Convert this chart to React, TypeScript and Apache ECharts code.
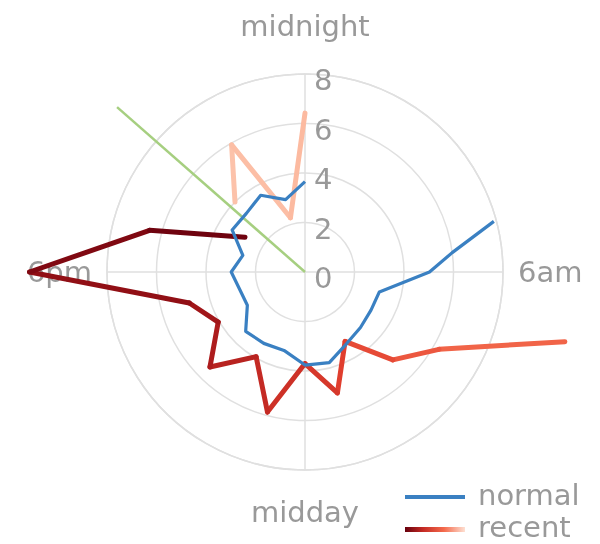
import React, { useEffect, useRef } from "react";
import * as echarts from "echarts";

// ---- data ----
const angleLabels = ["midnight", "6am", "midday", "6pm"];
const radiusTicks = [0, 2, 4, 6, 8];

const normalHours = [5, 5.5, 6, 7, 8, 9, 10, 11, 12, 13, 14, 15, 16, 17, 18, 19, 20, 21, 22, 23, 24];
const normalValues = [7.9, 6.0, 5.03, 3.11, 3.08, 3.17, 3.35, 3.79, 3.76, 3.28, 3.33, 3.39, 2.69, 2.73, 2.98, 2.6, 3.4, 3.35, 3.58, 3.03, 3.65];

// recent: yesterday evening (oldest) then today
const recentEveningHours = [21, 22, 23, 24];
const recentEveningValues = [4.0, 5.93, 2.27, 6.42];
const recentDayHours = [7, 8, 9, 10, 11, 12, 13, 14, 15, 16, 17, 18, 19, 20];
const recentDayValues = [10.87, 6.25, 5.02, 3.24, 5.06, 3.7, 5.86, 3.95, 5.43, 4.05, 4.84, 11.13, 6.5, 2.8];

const nowHour = 20.75;
const nowValue = 10.1;

// ---- styling helpers ----
const REDS = ["#fff5f0", "#fee0d2", "#fcbba1", "#fc9272", "#f46a4c", "#e2402f", "#c42a24", "#9e1418", "#67000d"];
function hex(c: string) {
  return [1, 3, 5].map((i) => parseInt(c.slice(i, i + 2), 16));
}
function reds(t: number) {
  t = Math.max(0, Math.min(1, t));
  const p = t * (REDS.length - 1);
  const i = Math.min(REDS.length - 2, Math.floor(p));
  const f = p - i;
  const a = hex(REDS[i]);
  const b = hex(REDS[i + 1]);
  const c = a.map((v, k) => Math.round(v + (b[k] - v) * f));
  return `rgb(${c[0]},${c[1]},${c[2]})`;
}
function shade(h: number) {
  const c = ((((h - 21) % 24) + 24) % 24) / 23;
  if (h === 24) return 0.26;
  return c < 0.2 ? 0.22 + 0.3 * c : 0.5 + (0.5 * (c - 0.435)) / 0.565;
}

function segments(hours: number[], values: number[]) {
  const out: any[] = [];
  for (let i = 0; i < hours.length - 1; i++) {
    const t = (shade(hours[i]) + shade(hours[i + 1])) / 2;
    out.push({
      type: "line",
      coordinateSystem: "polar",
      polarIndex: 1,
      data: [
        [values[i], hours[i]],
        [values[i + 1], hours[i + 1]],
      ],
      showSymbol: false,
      clip: false,
      silent: true,
      z: 3,
      lineStyle: { color: reds(t), width: 5, cap: "round", join: "round" },
    });
  }
  return out;
}

const FONT = "DejaVu Sans";
const GREY = "#999";
const GRID = "#e0e0e0";

export default function App() {
  const ref = useRef<HTMLDivElement>(null);
  useEffect(() => {
    if (!ref.current) return;
    const chart = echarts.init(ref.current, null, { renderer: "svg" });
    const hiddenAxis = {
      axisLine: { show: false },
      axisTick: { show: false },
      splitLine: { show: false },
      axisLabel: { show: false },
    };
    const option: any = {
      animation: false,
      polar: [
        { center: [305, 272], radius: 198 },
        { center: [305, 272], radius: 396 },
      ],
      angleAxis: [
        {
          polarIndex: 0,
          type: "value",
          min: 0,
          max: 24,
          interval: 6,
          startAngle: 90,
          clockwise: true,
          axisLine: { show: true, lineStyle: { color: GRID, width: 1.5 } },
          axisTick: { show: false },
          splitLine: { show: true, lineStyle: { color: GRID, width: 1.5 } },
          axisLabel: {
            show: true,
            margin: 15,
            color: GREY,
            fontSize: 29,
            fontFamily: FONT,
            padding: [12, 0, 19, 0],
            formatter: (v: number) => angleLabels[Math.round(v / 6)] ?? "",
          },
        },
        { polarIndex: 1, type: "value", min: 0, max: 24, startAngle: 90, clockwise: true, ...hiddenAxis },
      ],
      radiusAxis: [
        {
          polarIndex: 0,
          type: "value",
          min: radiusTicks[0],
          max: radiusTicks[radiusTicks.length - 1],
          interval: 2,
          axisLine: { show: false },
          axisTick: { show: false },
          splitLine: { show: true, lineStyle: { color: GRID, width: 1.5 } },
          axisLabel: {
            show: true,
            color: GREY,
            fontSize: 29,
            fontFamily: FONT,
            margin: -9,
            align: "left",
            verticalAlign: "top",
            lineHeight: 12,
          },
        },
        { polarIndex: 1, type: "value", min: 0, max: 16, ...hiddenAxis },
      ],
      series: [
        {
          type: "line",
          coordinateSystem: "polar",
          polarIndex: 1,
          data: [
            [0, nowHour],
            [nowValue, nowHour],
          ],
          showSymbol: false,
          clip: false,
          silent: true,
          z: 2,
          lineStyle: { color: "#a6cf80", width: 2.5 },
        },
        ...segments(recentEveningHours, recentEveningValues),
        ...segments(recentDayHours, recentDayValues),
        {
          type: "line",
          name: "normal",
          coordinateSystem: "polar",
          polarIndex: 1,
          data: normalHours.map((h, i) => [normalValues[i], h]),
          showSymbol: false,
          clip: false,
          silent: true,
          z: 4,
          lineStyle: { color: "#3a80c2", width: 3.2, join: "round" },
        },
      ],
      graphic: [
        {
          type: "line",
          shape: { x1: 405, y1: 497, x2: 465, y2: 497 },
          style: { stroke: "#3a80c2", lineWidth: 4 },
        },
        {
          type: "text",
          x: 478,
          y: 495,
          style: { text: "normal", fill: GREY, fontSize: 29, fontFamily: FONT, verticalAlign: "middle", lineHeight: 28 },
        },
        {
          type: "rect",
          shape: { x: 405, y: 527, width: 60, height: 5 },
          style: {
            fill: new echarts.graphic.LinearGradient(0, 0, 1, 0, [
              { offset: 0, color: "#67000d" },
              { offset: 0.3, color: "#c42a24" },
              { offset: 0.65, color: "#f46a4c" },
              { offset: 1, color: "#fee0d2" },
            ]),
          },
        },
        {
          type: "text",
          x: 478,
          y: 527,
          style: { text: "recent", fill: GREY, fontSize: 29, fontFamily: FONT, verticalAlign: "middle", lineHeight: 28 },
        },
      ],
    };
    chart.setOption(option);
    return () => chart.dispose();
  }, []);
  return <div ref={ref} style={{ position: "fixed", left: 0, top: 0, width: 600, height: 544 }} />;
}
